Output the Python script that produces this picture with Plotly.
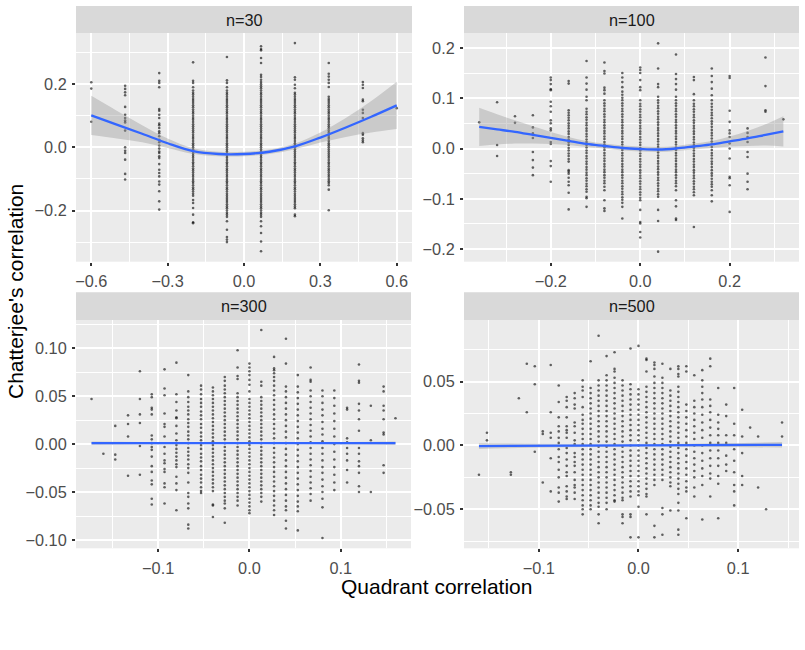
import plotly.graph_objects as go

# ---------------- data ----------------
# n=30 panel: columns of Quadrant correlation and Chatterjee values in each column
x30 = [-0.6, -0.467, -0.333, -0.2, -0.067, 0.067, 0.2, 0.333, 0.467, 0.6]
y30 = [
    [0.206, 0.186, 0.081],
    [0.195, 0.185, 0.174, 0.165, 0.128, 0.103, 0.093, 0.085, 0.079, 0.053, 0.000, -0.011, -0.018, -0.039, -0.084, -0.102],
    [0.235, 0.211, 0.204, 0.190, 0.121, 0.116, 0.103, 0.093, 0.075, 0.070, 0.061, 0.051, 0.045, 0.035, 0.024, 0.016,
     0.006, -0.004, -0.013, -0.018, -0.028, -0.034, -0.053, -0.071, -0.081, -0.092, -0.108, -0.118, -0.139, -0.171, -0.197],
    [0.269, 0.211, 0.204, 0.190, 0.180, 0.173, 0.167, 0.160, 0.153, 0.147, 0.140, 0.133, 0.127, 0.120, 0.113, 0.107,
     0.100, 0.093, 0.087, 0.080, 0.073, 0.067, 0.060, 0.053, 0.047, 0.040, 0.033, 0.027, 0.020, 0.013, 0.007, 0.000,
     -0.007, -0.013, -0.020, -0.027, -0.033, -0.040, -0.047, -0.053, -0.060, -0.067, -0.073, -0.080, -0.087, -0.093,
     -0.100, -0.107, -0.113, -0.120, -0.127, -0.133, -0.140, -0.147, -0.153, -0.167, -0.176, -0.192, -0.213, -0.237, -0.240],
    [0.286, 0.212, 0.204, 0.190, 0.180, 0.173, 0.167, 0.160, 0.153, 0.147, 0.140, 0.133, 0.127, 0.120, 0.113, 0.107,
     0.100, 0.093, 0.087, 0.080, 0.073, 0.067, 0.060, 0.053, 0.047, 0.040, 0.033, 0.027, 0.020, 0.013, 0.007, 0.000,
     -0.007, -0.013, -0.020, -0.027, -0.033, -0.040, -0.047, -0.053, -0.060, -0.067, -0.073, -0.080, -0.087, -0.093,
     -0.100, -0.107, -0.113, -0.120, -0.127, -0.133, -0.140, -0.147, -0.153, -0.160, -0.167, -0.173, -0.180, -0.187,
     -0.193, -0.200, -0.207, -0.213, -0.220, -0.234, -0.261, -0.284, -0.292, -0.300],
    [0.320, 0.311, 0.307, 0.283, 0.267, 0.230, 0.223, 0.214, 0.207, 0.200, 0.193, 0.187, 0.180, 0.173, 0.167, 0.160,
     0.153, 0.147, 0.140, 0.133, 0.127, 0.120, 0.113, 0.107, 0.100, 0.093, 0.087, 0.080, 0.073, 0.067, 0.060, 0.053,
     0.047, 0.040, 0.033, 0.027, 0.020, 0.013, 0.007, 0.000, -0.007, -0.013, -0.020, -0.027, -0.033, -0.040, -0.047,
     -0.053, -0.060, -0.067, -0.073, -0.080, -0.087, -0.093, -0.100, -0.107, -0.113, -0.120, -0.127, -0.133, -0.140,
     -0.147, -0.153, -0.160, -0.167, -0.173, -0.180, -0.187, -0.193, -0.200, -0.207, -0.213, -0.220, -0.234, -0.250,
     -0.271, -0.298, -0.329],
    [0.330, 0.222, 0.214, 0.198, 0.187, 0.173, 0.167, 0.160, 0.153, 0.147, 0.140, 0.133, 0.127, 0.120, 0.113, 0.107,
     0.100, 0.093, 0.087, 0.080, 0.073, 0.067, 0.060, 0.053, 0.047, 0.040, 0.033, 0.027, 0.020, 0.013, 0.007, 0.000,
     -0.007, -0.013, -0.020, -0.027, -0.033, -0.040, -0.047, -0.053, -0.060, -0.067, -0.073, -0.080, -0.087, -0.093,
     -0.100, -0.107, -0.113, -0.120, -0.127, -0.133, -0.140, -0.147, -0.153, -0.160, -0.167, -0.173, -0.180, -0.187,
     -0.193, -0.213, -0.218],
    [0.267, 0.233, 0.224, 0.214, 0.204, 0.191, 0.160, 0.153, 0.147, 0.140, 0.133, 0.127, 0.120, 0.113, 0.107, 0.100,
     0.093, 0.087, 0.080, 0.073, 0.067, 0.060, 0.053, 0.047, 0.040, 0.033, 0.027, 0.020, 0.013, 0.007, 0.000, -0.007,
     -0.013, -0.020, -0.027, -0.033, -0.040, -0.047, -0.053, -0.060, -0.067, -0.073, -0.080, -0.087, -0.093, -0.100,
     -0.107, -0.113, -0.120, -0.134, -0.199],
    [0.207, 0.198, 0.188, 0.151, 0.146, 0.119, 0.109, 0.093, 0.045, 0.040, 0.029, 0.022, 0.016],
    [0.124],
]

# n=100 panel
x100 = [-0.36, -0.32, -0.28, -0.24, -0.20, -0.16, -0.12, -0.08, -0.04, 0.00, 0.04, 0.08, 0.12, 0.16, 0.20, 0.24, 0.28, 0.32]
y100 = [
    [0.052],
    [0.092, 0.007, -0.015],
    [0.064, 0.051],
    [0.066, 0.042, 0.030, 0.021, -0.007, -0.023, -0.038, -0.053],
    [0.141, 0.136, 0.128, 0.118, 0.116, 0.093, 0.084, 0.073, 0.056, 0.050, 0.040, 0.036, 0.013, 0.009, -0.025, -0.035, -0.066],
    [0.134, 0.129, 0.076, 0.071, 0.066, 0.061, 0.056, 0.050, 0.045, 0.040, 0.034, 0.029, 0.023, 0.018, 0.012, 0.007,
     0.001, -0.004, -0.010, -0.015, -0.021, -0.026, -0.043, -0.046, -0.050, -0.058, -0.066, -0.073, -0.088, -0.121],
    [0.174, 0.141, 0.129, 0.117, 0.103, 0.096, 0.079, 0.073, 0.068, 0.062, 0.057, 0.051, 0.046, 0.040, 0.035, 0.029,
     0.024, 0.018, 0.013, 0.007, 0.002, -0.004, -0.009, -0.015, -0.020, -0.026, -0.031, -0.037, -0.042, -0.048, -0.053,
     -0.059, -0.064, -0.070, -0.075, -0.081, -0.086, -0.096, -0.099, -0.116],
    [0.171, 0.154, 0.149, 0.121, 0.116, 0.109, 0.096, 0.090, 0.085, 0.079, 0.074, 0.068, 0.063, 0.057, 0.052, 0.046,
     0.041, 0.035, 0.030, 0.024, 0.019, 0.013, 0.008, 0.002, -0.003, -0.009, -0.014, -0.020, -0.025, -0.031, -0.036,
     -0.042, -0.047, -0.053, -0.058, -0.064, -0.069, -0.076, -0.083, -0.103, -0.119, -0.124],
    [0.150, 0.141, 0.132, 0.122, 0.113, 0.107, 0.101, 0.096, 0.090, 0.085, 0.079, 0.074, 0.068, 0.063, 0.057, 0.052,
     0.046, 0.041, 0.035, 0.030, 0.024, 0.019, 0.013, 0.008, 0.002, -0.003, -0.009, -0.014, -0.020, -0.025, -0.031,
     -0.036, -0.042, -0.047, -0.053, -0.058, -0.064, -0.069, -0.075, -0.080, -0.086, -0.091, -0.097, -0.102, -0.108,
     -0.116, -0.139],
    [0.161, 0.156, 0.150, 0.136, 0.122, 0.116, 0.096, 0.089, 0.084, 0.078, 0.073, 0.067, 0.062, 0.056, 0.051, 0.045,
     0.040, 0.034, 0.029, 0.023, 0.018, 0.012, 0.007, 0.001, -0.004, -0.010, -0.015, -0.021, -0.026, -0.032, -0.037,
     -0.043, -0.048, -0.054, -0.059, -0.065, -0.070, -0.076, -0.081, -0.087, -0.092, -0.098, -0.103, -0.122, -0.146,
     -0.149, -0.166, -0.177],
    [0.209, 0.159, 0.128, 0.122, 0.103, 0.096, 0.091, 0.085, 0.080, 0.074, 0.069, 0.063, 0.058, 0.052, 0.047, 0.041,
     0.036, 0.030, 0.025, 0.019, 0.014, 0.008, 0.003, -0.003, -0.008, -0.014, -0.019, -0.025, -0.030, -0.036, -0.041,
     -0.047, -0.052, -0.058, -0.063, -0.069, -0.074, -0.080, -0.085, -0.091, -0.096, -0.122, -0.144, -0.205],
    [0.187, 0.148, 0.138, 0.128, 0.117, 0.103, 0.096, 0.090, 0.085, 0.079, 0.074, 0.068, 0.063, 0.057, 0.052, 0.046,
     0.041, 0.035, 0.030, 0.024, 0.019, 0.013, 0.008, 0.002, -0.003, -0.009, -0.014, -0.020, -0.025, -0.031, -0.036,
     -0.042, -0.047, -0.053, -0.058, -0.064, -0.069, -0.075, -0.083, -0.103, -0.115, -0.139, -0.142],
    [0.142, 0.136, 0.108, 0.096, 0.089, 0.084, 0.078, 0.073, 0.067, 0.062, 0.056, 0.051, 0.045, 0.040, 0.034, 0.029,
     0.023, 0.018, 0.012, 0.007, 0.001, -0.004, -0.010, -0.015, -0.021, -0.026, -0.032, -0.037, -0.043, -0.048, -0.054,
     -0.059, -0.065, -0.070, -0.076, -0.081, -0.087, -0.093, -0.156],
    [0.159, 0.144, 0.132, 0.119, 0.106, 0.096, 0.089, 0.083, 0.077, 0.071, 0.066, 0.060, 0.054, 0.049, 0.043, 0.037,
     0.031, 0.026, 0.020, 0.014, 0.009, 0.003, -0.003, -0.009, -0.014, -0.020, -0.026, -0.031, -0.037, -0.043, -0.049,
     -0.054, -0.060, -0.066, -0.071, -0.076, -0.083, -0.093, -0.105],
    [0.144, 0.140, 0.075, 0.053, 0.036, 0.030, 0.023, 0.010, 0.000, -0.020, -0.056, -0.059, -0.073, -0.126],
    [0.040, 0.031, 0.023, 0.013, -0.007, -0.017, -0.050, -0.066, -0.081],
    [0.181, 0.124, 0.076, 0.073],
    [0.058],
]

# n=300 panel
x300 = [-0.173, -0.160, -0.147, -0.133, -0.120, -0.107, -0.093, -0.080, -0.067, -0.053, -0.040, -0.027, -0.013,
        0.000, 0.013, 0.027, 0.040, 0.053, 0.067, 0.080, 0.093, 0.107, 0.120, 0.133, 0.147, 0.160]
y300 = [
    [0.047],
    [-0.010],
    [0.019, -0.011, -0.016],
    [0.030, 0.021, 0.008, -0.033],
    [0.076, 0.047, 0.031, 0.022, -0.002, -0.032],
    [0.052, 0.049, 0.038, 0.036, 0.031, 0.009, 0.005, 0.001, -0.003, -0.006, -0.013, -0.023, -0.029, -0.038, -0.042, -0.057, -0.063],
    [0.078, 0.058, 0.051, 0.032, 0.021, 0.018, 0.008, -0.003, -0.010, -0.017, -0.020, -0.026, -0.029, -0.041, -0.045, -0.062],
    [0.085, 0.052, 0.044, 0.035, 0.028, 0.027, 0.019, 0.011, 0.004, -0.001, -0.005, -0.009, -0.013, -0.017, -0.021,
     -0.024, -0.034, -0.041, -0.048, -0.069],
    [0.072, 0.055, 0.049, 0.044, 0.039, 0.035, 0.031, 0.026, 0.022, 0.018, 0.013, 0.009, 0.005, 0.001, -0.004, -0.008,
     -0.012, -0.016, -0.021, -0.025, -0.030, -0.040, -0.051, -0.055, -0.062, -0.067, -0.084, -0.088],
    [0.061, 0.057, 0.052, 0.047, 0.043, 0.039, 0.034, 0.030, 0.026, 0.021, 0.017, 0.012, 0.008, 0.004, -0.001, -0.005,
     -0.010, -0.014, -0.018, -0.023, -0.027, -0.032, -0.036, -0.040, -0.045, -0.049, -0.051],
    [0.059, 0.055, 0.051, 0.047, 0.043, 0.039, 0.035, 0.031, 0.027, 0.023, 0.019, 0.015, 0.011, 0.007, 0.003, -0.001,
     -0.005, -0.009, -0.013, -0.017, -0.021, -0.025, -0.029, -0.033, -0.037, -0.041, -0.045, -0.049, -0.063, -0.064, -0.076],
    [0.070, 0.066, 0.061, 0.057, 0.053, 0.049, 0.045, 0.041, 0.037, 0.033, 0.029, 0.025, 0.021, 0.017, 0.013, 0.009,
     0.005, 0.001, -0.003, -0.007, -0.011, -0.015, -0.019, -0.023, -0.027, -0.031, -0.035, -0.039, -0.043, -0.047,
     -0.051, -0.055, -0.059, -0.062, -0.067, -0.082],
    [0.098, 0.080, 0.071, 0.068, 0.053, 0.049, 0.045, 0.041, 0.037, 0.033, 0.029, 0.025, 0.021, 0.017, 0.013, 0.009,
     0.005, 0.001, -0.003, -0.007, -0.011, -0.015, -0.019, -0.023, -0.027, -0.031, -0.035, -0.039, -0.043, -0.047,
     -0.051, -0.055, -0.059, -0.064],
    [0.084, 0.080, 0.076, 0.072, 0.067, 0.062, 0.055, 0.047, 0.043, 0.039, 0.035, 0.031, 0.027, 0.023, 0.019, 0.015,
     0.011, 0.007, 0.003, -0.001, -0.005, -0.009, -0.013, -0.017, -0.021, -0.025, -0.029, -0.033, -0.037, -0.041,
     -0.045, -0.049, -0.053, -0.057, -0.061, -0.065, -0.069, -0.072],
    [0.119, 0.065, 0.061, 0.049, 0.045, 0.041, 0.037, 0.033, 0.029, 0.025, 0.021, 0.017, 0.013, 0.009, 0.005, 0.001,
     -0.003, -0.007, -0.011, -0.015, -0.019, -0.023, -0.027, -0.031, -0.035, -0.039, -0.043, -0.047, -0.051, -0.055, -0.060],
    [0.091, 0.079, 0.077, 0.074, 0.070, 0.066, 0.061, 0.056, 0.051, 0.046, 0.041, 0.036, 0.031, 0.026, 0.021, 0.016,
     0.011, 0.006, 0.001, -0.004, -0.009, -0.014, -0.019, -0.024, -0.029, -0.034, -0.039, -0.044, -0.049, -0.054,
     -0.059, -0.064, -0.069, -0.074],
    [0.110, 0.084, 0.060, 0.055, 0.049, 0.043, 0.037, 0.031, 0.025, 0.019, 0.013, 0.007, 0.001, -0.005, -0.011, -0.017,
     -0.023, -0.029, -0.035, -0.041, -0.047, -0.053, -0.059, -0.065, -0.069, -0.080, -0.088],
    [0.072, 0.060, 0.054, 0.048, 0.042, 0.036, 0.030, 0.024, 0.018, 0.012, 0.006, 0.000, -0.006, -0.012, -0.018, -0.024,
     -0.030, -0.036, -0.042, -0.048, -0.054, -0.060, -0.065, -0.070, -0.090],
    [0.080, 0.067, 0.065, 0.056, 0.050, 0.044, 0.038, 0.032, 0.026, 0.020, 0.014, 0.008, 0.002, -0.004, -0.010, -0.016,
     -0.022, -0.028, -0.034, -0.040, -0.046, -0.052, -0.059],
    [0.056, 0.050, 0.043, 0.036, 0.030, 0.023, 0.016, 0.010, 0.003, -0.004, -0.010, -0.017, -0.024, -0.030, -0.037,
     -0.044, -0.050, -0.057, -0.066, -0.098],
    [0.056, 0.048, 0.040, 0.032, 0.024, 0.016, 0.008, 0.000, -0.008, -0.016, -0.024, -0.032, -0.040, -0.048],
    [0.038, 0.036, 0.006, 0.002, -0.004, -0.010, -0.017, -0.027, -0.040],
    [0.083, 0.066, 0.064, 0.042, 0.035, 0.026, 0.014, -0.004, -0.010, -0.018, -0.023, -0.030, -0.044, -0.050],
    [0.040, 0.004, -0.050],
    [0.060, 0.055, 0.040, 0.035, 0.026, 0.012, 0.010, -0.022, -0.030],
    [0.027],
]

# n=500 panel
x500 = [-0.160, -0.152, -0.128, -0.120, -0.112, -0.104, -0.096, -0.088, -0.080, -0.072, -0.064, -0.056, -0.048,
        -0.040, -0.032, -0.024, -0.016, -0.008, 0.000, 0.008, 0.016, 0.024, 0.032, 0.040, 0.048, 0.056, 0.064,
        0.072, 0.080, 0.088, 0.096, 0.104, 0.112, 0.120, 0.128, 0.144]
y500 = [
    [-0.023],
    [0.010, 0.004],
    [-0.021, -0.023],
    [0.037],
    [0.064, 0.026],
    [0.062, 0.048, -0.005],
    [0.011, 0.009, -0.029],
    [0.063, 0.026, 0.010, 0.006, -0.010, -0.036],
    [0.047, 0.034, 0.022, 0.015, 0.011, 0.006, 0.002, -0.003, -0.009, -0.013, -0.019, -0.025, -0.033, -0.037, -0.044],
    [0.038, 0.035, 0.030, 0.022, 0.015, 0.012, 0.010, 0.006, -0.002, -0.006, -0.011, -0.016, -0.021, -0.024, -0.032,
     -0.036, -0.040, -0.042],
    [0.041, 0.037, 0.032, 0.029, 0.018, 0.015, 0.010, 0.004, 0.001, -0.006, -0.009, -0.013, -0.016, -0.021, -0.027,
     -0.031, -0.033, -0.037, -0.042],
    [0.051, 0.046, 0.043, 0.038, 0.030, 0.024, 0.020, 0.017, 0.013, 0.009, 0.005, 0.001, -0.003, -0.007, -0.011,
     -0.015, -0.019, -0.023, -0.027, -0.031, -0.035, -0.039, -0.043, -0.047, -0.050, -0.054],
    [0.066, 0.045, 0.041, 0.037, 0.033, 0.029, 0.025, 0.021, 0.017, 0.013, 0.009, 0.005, 0.001, -0.003, -0.007,
     -0.011, -0.015, -0.019, -0.023, -0.027, -0.031, -0.035, -0.039, -0.043, -0.047, -0.050],
    [0.086, 0.051, 0.047, 0.043, 0.039, 0.035, 0.031, 0.027, 0.023, 0.019, 0.015, 0.011, 0.007, 0.003, -0.001,
     -0.005, -0.009, -0.013, -0.017, -0.021, -0.025, -0.029, -0.033, -0.037, -0.041, -0.045, -0.048, -0.054, -0.061],
    [0.070, 0.055, 0.051, 0.047, 0.043, 0.039, 0.035, 0.031, 0.027, 0.023, 0.019, 0.015, 0.011, 0.007, 0.003,
     -0.001, -0.005, -0.009, -0.013, -0.017, -0.021, -0.025, -0.029, -0.033, -0.037, -0.041, -0.045, -0.050],
    [0.073, 0.060, 0.058, 0.053, 0.049, 0.045, 0.041, 0.037, 0.033, 0.029, 0.025, 0.021, 0.017, 0.013, 0.009, 0.005,
     0.001, -0.003, -0.007, -0.011, -0.015, -0.019, -0.023, -0.027, -0.031, -0.035, -0.039, -0.043, -0.044],
    [0.051, 0.047, 0.043, 0.039, 0.035, 0.031, 0.027, 0.023, 0.019, 0.015, 0.011, 0.007, 0.003, -0.001, -0.005,
     -0.009, -0.013, -0.017, -0.021, -0.025, -0.029, -0.033, -0.037, -0.041, -0.043, -0.054, -0.056, -0.061],
    [0.076, 0.048, 0.044, 0.040, 0.036, 0.032, 0.028, 0.024, 0.020, 0.016, 0.012, 0.008, 0.004, 0.000, -0.004,
     -0.008, -0.012, -0.016, -0.020, -0.024, -0.028, -0.032, -0.036, -0.040, -0.054, -0.056, -0.072],
    [0.078, 0.044, 0.040, 0.036, 0.032, 0.028, 0.024, 0.020, 0.016, 0.012, 0.008, 0.004, 0.000, -0.004, -0.008,
     -0.012, -0.016, -0.020, -0.024, -0.028, -0.032, -0.036, -0.039, -0.048, -0.072],
    [0.068, 0.067, 0.058, 0.046, 0.042, 0.038, 0.034, 0.030, 0.026, 0.022, 0.018, 0.014, 0.010, 0.006, 0.002,
     -0.002, -0.006, -0.010, -0.014, -0.018, -0.022, -0.026, -0.030, -0.034, -0.038, -0.040, -0.054],
    [0.065, 0.063, 0.060, 0.054, 0.049, 0.045, 0.041, 0.037, 0.033, 0.029, 0.025, 0.021, 0.017, 0.013, 0.009, 0.005,
     0.001, -0.003, -0.007, -0.011, -0.015, -0.019, -0.023, -0.027, -0.031, -0.063, -0.072],
    [0.064, 0.053, 0.049, 0.045, 0.041, 0.037, 0.033, 0.029, 0.025, 0.021, 0.017, 0.013, 0.009, 0.005, 0.001,
     -0.003, -0.007, -0.011, -0.015, -0.019, -0.023, -0.027, -0.049, -0.054, -0.070],
    [0.060, 0.043, 0.039, 0.035, 0.031, 0.027, 0.023, 0.019, 0.015, 0.011, 0.007, 0.003, -0.001, -0.005, -0.009,
     -0.013, -0.017, -0.021, -0.025, -0.029, -0.032, -0.051],
    [0.062, 0.060, 0.056, 0.054, 0.046, 0.042, 0.038, 0.034, 0.030, 0.026, 0.022, 0.018, 0.014, 0.010, 0.006, 0.002,
     -0.002, -0.006, -0.010, -0.014, -0.018, -0.022, -0.026, -0.030, -0.034, -0.038, -0.045, -0.051, -0.066, -0.070],
    [0.062, 0.058, 0.032, 0.027, 0.022, 0.017, 0.012, 0.007, 0.002, -0.003, -0.008, -0.013, -0.018, -0.023, -0.028,
     -0.033, -0.036, -0.057],
    [0.055, 0.035, 0.030, 0.025, 0.020, 0.015, 0.010, 0.005, 0.000, -0.005, -0.010, -0.015, -0.020, -0.025, -0.033, -0.040],
    [0.059, 0.051, 0.046, 0.041, 0.036, 0.030, 0.024, 0.018, 0.012, 0.006, 0.000, -0.006, -0.012, -0.018, -0.024, -0.031, -0.058],
    [0.068, 0.062, 0.036, 0.031, 0.026, 0.020, 0.014, 0.008, 0.002, -0.004, -0.010, -0.016, -0.022, -0.026, -0.040],
    [0.045, 0.024, 0.018, 0.013, 0.008, 0.002, -0.004, -0.010, -0.016, -0.024, -0.030, -0.057],
    [0.032, 0.023, 0.008, 0.002, -0.008, -0.015, -0.020],
    [0.045, 0.017, 0.008, -0.003, -0.012, -0.021, -0.031, -0.036, -0.047],
    [0.028, 0.007, -0.006, -0.024, -0.031],
    [0.014],
    [0.007, -0.033],
    [-0.050],
    [0.018, 0.007],
    [0.020],
]

# loess smooth fits (value and standard-error half-width)
sx30 = [-0.6, -0.5, -0.4, -0.3, -0.2, -0.1, 0.0, 0.1, 0.2, 0.3, 0.4, 0.5, 0.6]
sy30 = [0.101, 0.072, 0.043, 0.013, -0.012, -0.021, -0.021, -0.014, 0.003, 0.031, 0.063, 0.097, 0.133]
se30 = [0.062, 0.044, 0.027, 0.015, 0.009, 0.007, 0.007, 0.007, 0.009, 0.016, 0.030, 0.050, 0.075]

sx100 = [-0.36, -0.32, -0.28, -0.24, -0.20, -0.16, -0.12, -0.08, -0.04, 0.00, 0.04, 0.08, 0.12, 0.16, 0.20, 0.24, 0.28, 0.32]
sy100 = [0.043, 0.038, 0.033, 0.027, 0.021, 0.015, 0.009, 0.005, 0.001, -0.001, -0.002, 0.000, 0.004, 0.008, 0.014, 0.020, 0.027, 0.034]
se100 = [0.038, 0.030, 0.023, 0.017, 0.012, 0.008, 0.006, 0.005, 0.005, 0.005, 0.005, 0.005, 0.006, 0.007, 0.010, 0.015, 0.021, 0.030]

sx300 = [-0.173, 0.0, 0.160]
sy300 = [0.001, 0.001, 0.001]
se300 = [0.0018, 0.0008, 0.0018]

sx500 = [-0.160, 0.0, 0.144]
sy500 = [-0.0005, 0.0000, 0.0005]
se500 = [0.0022, 0.0009, 0.0022]

panel_titles = ["n=30", "n=100", "n=300", "n=500"]

# ---------------- figure ----------------
W, H = 805, 650
FONT = "Liberation Sans, Arial, Helvetica, sans-serif"

# panel boxes in pixels: (left, right, top, bottom), strip top
boxes = [(76, 412, 33.3, 261.7, 6.0), (464, 799, 33.3, 261.7, 6.0),
         (76, 411, 320.0, 548.3, 292.3), (464, 799, 320.0, 548.3, 292.3)]
xranges = [[-0.66, 0.66], [-0.394, 0.355], [-0.190, 0.177], [-0.175, 0.161]]
yranges = [[-0.362, 0.361], [-0.225, 0.229], [-0.1087, 0.1295], [-0.0806, 0.0983]]
xdt = [(0.3, 0.15, ".1f"), (0.2, 0.1, ".1f"), (0.1, 0.05, ".1f"), (0.1, 0.05, ".1f")]
ydt = [(0.2, 0.1, ".1f"), (0.1, 0.05, ".1f"), (0.05, 0.025, ".2f"), (0.05, 0.025, ".2f")]

datasets = [(x30, y30, sx30, sy30, se30), (x100, y100, sx100, sy100, se100),
            (x300, y300, sx300, sy300, se300), (x500, y500, sx500, sy500, se500)]

fig = go.Figure()
layout = dict(width=W, height=H, margin=dict(l=0, r=0, t=0, b=0),
              paper_bgcolor="white", plot_bgcolor="#EBEBEB", showlegend=False,
              font=dict(family=FONT))
shapes = []
annotations = []

for i, (xc, yc, sx, sy, se) in enumerate(datasets):
    ax = "" if i == 0 else str(i + 1)
    px, py = [], []
    for xv, ys in zip(xc, yc):
        for yv in ys:
            px.append(xv)
            py.append(yv)
    fig.add_trace(go.Scatter(x=px, y=py, mode="markers", xaxis="x" + ax, yaxis="y" + ax,
                             marker=dict(size=2.6, color="rgba(0,0,0,0.6)", line=dict(width=0)),
                             hoverinfo="skip"))
    lo = [a - b for a, b in zip(sy, se)]
    hi = [a + b for a, b in zip(sy, se)]
    fig.add_trace(go.Scatter(x=sx, y=lo, mode="lines", line=dict(width=0, shape="spline"),
                             xaxis="x" + ax, yaxis="y" + ax, hoverinfo="skip"))
    fig.add_trace(go.Scatter(x=sx, y=hi, mode="lines", line=dict(width=0, shape="spline"), fill="tonexty",
                             fillcolor="rgba(153,153,153,0.4)", xaxis="x" + ax, yaxis="y" + ax, hoverinfo="skip"))
    fig.add_trace(go.Scatter(x=sx, y=sy, mode="lines", line=dict(color="#3366FF", width=2.3, shape="spline"),
                             xaxis="x" + ax, yaxis="y" + ax, hoverinfo="skip"))

    l, r, t, b, st = boxes[i]
    xd = [l / W, r / W]
    yd = [1 - b / H, 1 - t / H]
    common = dict(showline=False, zeroline=False, ticks="outside", ticklen=3, tickwidth=1.6,
                  tickcolor="#333333", gridcolor="white", gridwidth=1.9, ticklabelstandoff=2,
                  tickfont=dict(family=FONT, size=16.3, color="#4D4D4D"), showgrid=True)
    layout["xaxis" + ax] = dict(domain=xd, range=xranges[i], anchor="y" + ax,
                                tick0=0, dtick=xdt[i][0], tickformat=xdt[i][2],
                                minor=dict(tick0=0, dtick=xdt[i][1], showgrid=True, gridcolor="white", gridwidth=0.9),
                                **common)
    layout["yaxis" + ax] = dict(domain=yd, range=yranges[i], anchor="x" + ax,
                                tick0=0, dtick=ydt[i][0], tickformat=ydt[i][2],
                                minor=dict(tick0=0, dtick=ydt[i][1], showgrid=True, gridcolor="white", gridwidth=0.9),
                                **common)
    shapes.append(dict(type="rect", xref="paper", yref="paper", x0=l / W, x1=r / W,
                       y0=1 - t / H, y1=1 - st / H, fillcolor="#D9D9D9", line=dict(width=0), layer="below"))
    annotations.append(dict(text=panel_titles[i], xref="paper", yref="paper", x=(l + r) / 2 / W,
                            y=1 - (st + t) / 2 / H, showarrow=False, xanchor="center", yanchor="middle",
                            font=dict(family=FONT, size=16.3, color="#1A1A1A")))

annotations.append(dict(text="Chatterjee's correlation", xref="paper", yref="paper", x=15 / W, y=1 - 292 / H,
                        textangle=-90, showarrow=False, xanchor="center", yanchor="middle",
                        font=dict(family=FONT, size=21, color="black")))
annotations.append(dict(text="Quadrant correlation", xref="paper", yref="paper", x=437 / W, y=1 - 586 / H,
                        showarrow=False, xanchor="center", yanchor="middle",
                        font=dict(family=FONT, size=21, color="black")))

layout["shapes"] = shapes
layout["annotations"] = annotations
fig.update_layout(**layout)
fig.write_html("out.html")
